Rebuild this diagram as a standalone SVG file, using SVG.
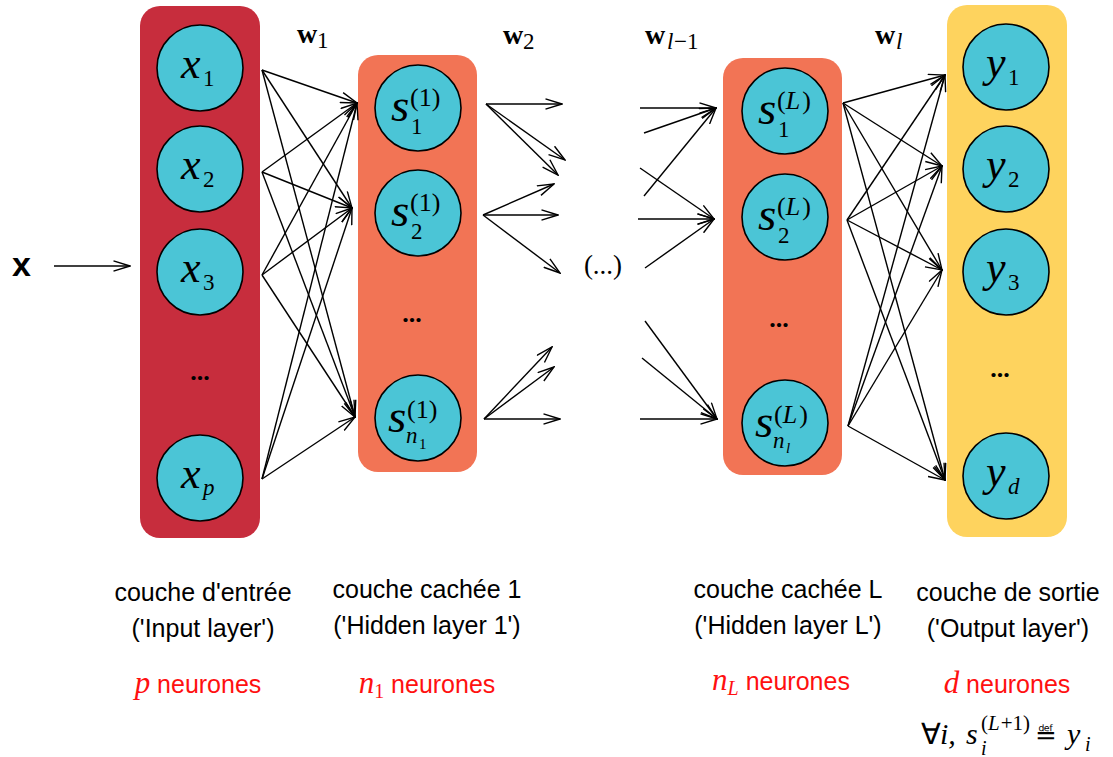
<svg xmlns="http://www.w3.org/2000/svg" width="1113" height="757" viewBox="0 0 1113 757">
<defs>
<marker id="ah" viewBox="0 0 18 12" refX="17" refY="6" markerWidth="18" markerHeight="12" markerUnits="userSpaceOnUse" orient="auto">
<path d="M0.5,0.8 L17,6 L0.5,11.2" fill="none" stroke="#000" stroke-width="1.4"/>
</marker>
<style>
.lin{fill:#C72D3D}
.lh{fill:#F27455}
.lo{fill:#FED35E}
.nc{fill:#4BC5D6;stroke:#000;stroke-width:1.6}
.mi{font-family:"Liberation Serif",serif;font-style:italic;font-size:44px;fill:#000}
.ms{font-family:"Liberation Serif",serif;font-style:italic;font-size:47px;fill:#000}
.sb{font-family:"Liberation Serif",serif;font-size:23px;fill:#000}
.sbi{font-family:"Liberation Serif",serif;font-style:italic;font-size:23px;fill:#000}
.sp{font-family:"Liberation Serif",serif;font-size:26px;fill:#000}
.ss{font-family:"Liberation Serif",serif;font-size:15px;fill:#000}
.ssi{font-family:"Liberation Serif",serif;font-style:italic;font-size:15px;fill:#000}
.it{font-style:italic}
.dots{font-family:"Liberation Serif",serif;font-weight:bold;font-size:26px;text-anchor:middle;fill:#000}
.wb{font-family:"Liberation Serif",serif;font-weight:bold;font-size:28px;fill:#000}
.lab{font-family:"Liberation Sans",Arial,sans-serif;font-size:25px;text-anchor:middle;fill:#000}
.red{fill:#FF1010}
.rm{font-family:"Liberation Serif",serif;font-style:italic;font-size:31px}
.fm{font-family:"Liberation Serif",serif;font-size:30px;fill:#000}
.fmi{font-family:"Liberation Serif",serif;font-style:italic;font-size:30px;fill:#000}
.fs{font-family:"Liberation Serif",serif;font-size:21px;fill:#000}
.fsi{font-family:"Liberation Serif",serif;font-style:italic;font-size:20px;fill:#000}
#connectors line{stroke:#000;stroke-width:1.4;marker-end:url(#ah)}
</style>
</defs>

<rect id="layer-input" class="lin" x="140" y="6" width="120" height="532" rx="20"/>
<rect id="layer-hidden1" class="lh" x="358" y="55" width="119" height="417" rx="20"/>
<rect id="layer-hiddenL" class="lh" x="723" y="58" width="119" height="417" rx="20"/>
<rect id="layer-output" class="lo" x="947" y="5" width="120" height="532" rx="20"/>

<g id="input-x">
<text x="12" y="276" style="font-family:'Liberation Sans',Arial,sans-serif;font-weight:bold;font-size:34px">x</text>
</g>

<g id="connectors">
<line x1="54" y1="266" x2="130" y2="266"/>
<line x1="262" y1="70" x2="357" y2="103"/>
<line x1="262" y1="70" x2="352" y2="208"/>
<line x1="262" y1="70" x2="355" y2="417"/>
<line x1="262" y1="172" x2="357" y2="103"/>
<line x1="262" y1="172" x2="352" y2="208"/>
<line x1="262" y1="172" x2="355" y2="417"/>
<line x1="262" y1="275" x2="357" y2="103"/>
<line x1="262" y1="275" x2="352" y2="208"/>
<line x1="262" y1="275" x2="355" y2="417"/>
<line x1="262" y1="479" x2="357" y2="103"/>
<line x1="262" y1="479" x2="352" y2="208"/>
<line x1="262" y1="479" x2="355" y2="417"/>

<line x1="486" y1="104" x2="562" y2="104"/>
<line x1="486" y1="104" x2="565" y2="160"/>
<line x1="486" y1="104" x2="558" y2="175"/>
<line x1="483" y1="215" x2="554" y2="184"/>
<line x1="483" y1="215" x2="558" y2="215"/>
<line x1="483" y1="215" x2="560" y2="273"/>
<line x1="484" y1="419" x2="552" y2="347"/>
<line x1="484" y1="419" x2="554" y2="367"/>
<line x1="484" y1="419" x2="560" y2="419"/>

<line x1="640" y1="108" x2="716" y2="108"/>
<line x1="644" y1="133" x2="716" y2="108"/>
<line x1="644" y1="196" x2="716" y2="108"/>
<line x1="640" y1="168" x2="714" y2="219"/>
<line x1="638" y1="219" x2="714" y2="219"/>
<line x1="645" y1="268" x2="714" y2="219"/>
<line x1="645" y1="321" x2="717" y2="419"/>
<line x1="642" y1="358" x2="717" y2="419"/>
<line x1="640" y1="419" x2="717" y2="419"/>

<line x1="843" y1="103" x2="945" y2="75"/>
<line x1="843" y1="103" x2="942" y2="166"/>
<line x1="843" y1="103" x2="942" y2="270"/>
<line x1="843" y1="103" x2="945" y2="480"/>
<line x1="847" y1="220" x2="945" y2="75"/>
<line x1="847" y1="220" x2="942" y2="166"/>
<line x1="847" y1="220" x2="942" y2="270"/>
<line x1="847" y1="220" x2="945" y2="480"/>
<line x1="848" y1="426" x2="945" y2="75"/>
<line x1="848" y1="426" x2="942" y2="166"/>
<line x1="848" y1="426" x2="942" y2="270"/>
<line x1="848" y1="426" x2="945" y2="480"/>
</g>

<g id="weights">
<text class="wb" x="297" y="43">w</text><text class="sb" x="317" y="48">1</text>
<text class="wb" x="503" y="44">w</text><text class="sb" x="523" y="49">2</text>
<text class="wb" x="645" y="44">w</text><text class="sbi" x="667" y="49">l</text><text class="sb" x="674" y="49">−1</text>
<text class="wb" x="875" y="44">w</text><text class="sbi" x="896" y="49">l</text>
</g>

<text id="mid-dots" x="603" y="274" style="font-family:'Liberation Serif',serif;font-size:27px;text-anchor:middle">(...)</text>

<g id="node-x1"><circle class="nc" cx="200" cy="68" r="43"/><text class="mi" x="181" y="78">x</text><text class="sb" x="203" y="86">1</text></g>
<g id="node-x2"><circle class="nc" cx="200" cy="169" r="43"/><text class="mi" x="181" y="179">x</text><text class="sb" x="203" y="187">2</text></g>
<g id="node-x3"><circle class="nc" cx="200" cy="272" r="43"/><text class="mi" x="181" y="282">x</text><text class="sb" x="203" y="290">3</text></g>
<text id="input-dots" class="dots" x="200" y="380">...</text>
<g id="node-xp"><circle class="nc" cx="200" cy="478" r="43"/><text class="mi" x="181" y="488">x</text><text class="sbi" x="203" y="495">p</text></g>

<g id="node-s1"><circle class="nc" cx="418" cy="108" r="43"/><text class="ms" x="391" y="121">s</text><text class="sp" x="410" y="106">(1)</text><text class="sb" x="411" y="134">1</text></g>
<g id="node-s2"><circle class="nc" cx="418" cy="213" r="43"/><text class="ms" x="391" y="226">s</text><text class="sp" x="410" y="211">(1)</text><text class="sb" x="411" y="239">2</text></g>
<text id="h1-dots" class="dots" x="412" y="322">...</text>
<g id="node-sn1"><circle class="nc" cx="418" cy="418" r="43"/><text class="ms" x="388" y="432">s</text><text class="sp" x="407" y="418">(1)</text><text class="sbi" x="406" y="443">n</text><text class="ss" x="419" y="449">1</text></g>

<g id="node-sL1"><circle class="nc" cx="785" cy="111" r="43"/><text class="ms" x="758" y="124">s</text><text class="sp" x="777" y="109">(<tspan class="it">L</tspan><tspan dx="2">)</tspan></text><text class="sb" x="778" y="137">1</text></g>
<g id="node-sL2"><circle class="nc" cx="785" cy="217" r="43"/><text class="ms" x="758" y="230">s</text><text class="sp" x="777" y="215">(<tspan class="it">L</tspan><tspan dx="2">)</tspan></text><text class="sb" x="778" y="243">2</text></g>
<text id="hL-dots" class="dots" x="779" y="327">...</text>
<g id="node-sLn"><circle class="nc" cx="785" cy="423" r="43"/><text class="ms" x="755" y="437">s</text><text class="sp" x="774" y="423">(<tspan class="it">L</tspan><tspan dx="2">)</tspan></text><text class="sbi" x="773" y="448">n</text><text class="ssi" x="786" y="453">l</text></g>

<g id="node-y1"><circle class="nc" cx="1006" cy="67" r="43"/><text class="mi" x="986" y="77">y</text><text class="sb" x="1008" y="85">1</text></g>
<g id="node-y2"><circle class="nc" cx="1006" cy="169" r="43"/><text class="mi" x="986" y="179">y</text><text class="sb" x="1008" y="187">2</text></g>
<g id="node-y3"><circle class="nc" cx="1006" cy="272" r="43"/><text class="mi" x="986" y="282">y</text><text class="sb" x="1008" y="290">3</text></g>
<text id="out-dots" class="dots" x="1000" y="377">...</text>
<g id="node-yd"><circle class="nc" cx="1006" cy="476" r="43"/><text class="mi" x="986" y="486">y</text><text class="sbi" x="1008" y="494">d</text></g>

<g id="labels">
<text class="lab" x="203" y="601">couche d'entrée</text>
<text class="lab" x="203" y="637">('Input layer')</text>
<text class="lab red" x="198" y="693"><tspan class="rm">p</tspan> neurones</text>
<text class="lab" x="427" y="598">couche cachée 1</text>
<text class="lab" x="427" y="634">('Hidden layer 1')</text>
<text class="lab red" x="427" y="693"><tspan class="rm">n</tspan><tspan class="rm" style="font-style:normal;font-size:20px" dy="5">1</tspan><tspan dy="-5"> neurones</tspan></text>
<text class="lab" x="788" y="598">couche cachée L</text>
<text class="lab" x="788" y="634">('Hidden layer L')</text>
<text class="lab red" x="781" y="690"><tspan class="rm">n</tspan><tspan class="rm" style="font-size:20px" dy="5">L</tspan><tspan dy="-5"> neurones</tspan></text>
<text class="lab" x="1008" y="601">couche de sortie</text>
<text class="lab" x="1008" y="637">('Output layer')</text>
<text class="lab red" x="1007" y="693"><tspan class="rm">d</tspan> neurones</text>
</g>

<g id="formula">
<text x="921" y="744" style="font-family:'Liberation Serif',serif;font-size:29px">∀</text><text class="fmi" x="940" y="744">i,</text>
<text class="fmi" x="966" y="744">s</text>
<text class="fs" x="981" y="730">(<tspan class="it">L</tspan><tspan dx="1">+1)</tspan></text>
<text class="fsi" x="981" y="755">i</text>
<text x="1035" y="744" style="font-family:'DejaVu Sans',sans-serif;font-size:26px">≝</text>
<text class="fmi" x="1067" y="744">y</text><text class="fsi" x="1085" y="751">i</text>
</g>
</svg>
